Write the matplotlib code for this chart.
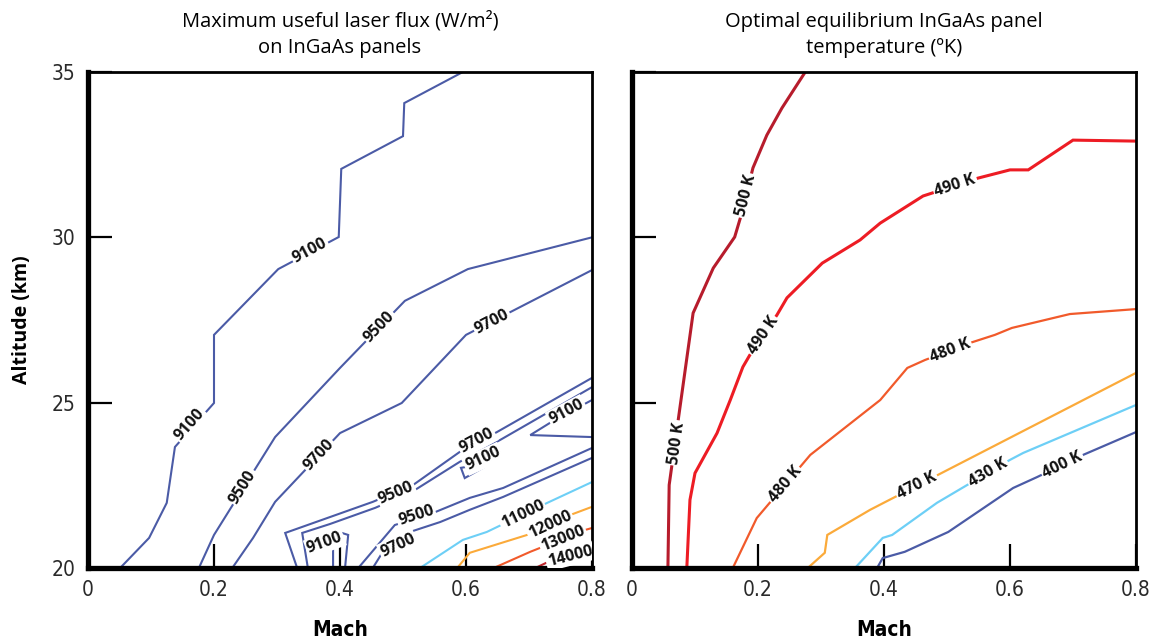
import numpy as np
import matplotlib.pyplot as plt

# ---- left panel: maximum useful laser flux (W/m2), contour polylines (Mach, altitude km)
flux_9100_a_mach = [0.051, 0.097, 0.125, 0.138, 0.2, 0.2, 0.302, 0.398, 0.402, 0.5, 0.502, 0.595]
flux_9100_a_alt = [20.0, 20.91, 21.97, 23.66, 24.99, 27.05, 29.04, 30.01, 32.07, 33.06, 34.06, 35.0]
flux_9500_a_mach = [0.176, 0.2, 0.297, 0.4, 0.503, 0.603, 0.8]
flux_9500_a_alt = [20.0, 21.0, 23.96, 26.05, 28.08, 29.04, 30.0]
flux_9700_a_mach = [0.229, 0.262, 0.297, 0.4, 0.498, 0.6, 0.8]
flux_9700_a_alt = [20.0, 20.91, 22.0, 24.08, 24.99, 27.05, 29.01]
flux_outer_mach = [0.332, 0.313, 0.452, 0.516, 0.590, 0.649, 0.8]
flux_outer_alt = [20.0, 21.06, 22.0, 22.51, 23.51, 24.11, 25.75]
flux_inner_mach = [0.349, 0.340, 0.384, 0.456, 0.514, 0.590, 0.654, 0.8]
flux_inner_alt = [20.0, 21.06, 21.33, 21.82, 22.30, 23.21, 23.87, 25.47]
flux_9100_box_mach = [0.389, 0.389, 0.403, 0.413, 0.408]
flux_9100_box_alt = [20.0, 20.64, 21.06, 21.0, 20.0]
flux_9100_wedge_mach = [0.8, 0.741, 0.702, 0.8]
flux_9100_wedge_alt = [25.08, 24.48, 24.02, 23.96]
flux_9100_loop_mach = [0.602, 0.592, 0.598, 0.627]
flux_9100_loop_alt = [23.06, 23.03, 22.72, 23.03]
flux_9500_b_mach = [0.429, 0.487, 0.551, 0.606, 0.659, 0.8]
flux_9500_b_alt = [20.0, 21.30, 21.69, 22.12, 22.42, 23.63]
flux_9700_b_mach = [0.452, 0.470, 0.511, 0.559, 0.606, 0.659, 0.8]
flux_9700_b_alt = [20.0, 20.55, 21.09, 21.39, 21.76, 22.15, 23.33]
flux_11000_mach = [0.527, 0.595, 0.633, 0.729, 0.8]
flux_11000_alt = [20.0, 20.85, 21.09, 21.97, 22.60]
flux_12000_mach = [0.586, 0.606, 0.697, 0.765, 0.8]
flux_12000_alt = [20.0, 20.46, 21.0, 21.60, 21.85]
flux_13000_mach = [0.644, 0.702, 0.789, 0.8]
flux_13000_alt = [20.0, 20.49, 21.15, 21.21]
flux_14000_mach = [0.710, 0.730, 0.8]
flux_14000_alt = [20.0, 20.18, 20.52]

# ---- right panel: optimal equilibrium panel temperature (K)
temp_500_mach = [0.057, 0.059, 0.063, 0.097, 0.129, 0.163, 0.173, 0.192, 0.214, 0.238, 0.275]
temp_500_alt = [20.0, 22.51, 23.06, 27.71, 29.07, 30.01, 30.65, 32.10, 33.09, 33.91, 35.0]
temp_490_mach = [0.087, 0.092, 0.100, 0.135, 0.156, 0.176, 0.187, 0.230, 0.246, 0.302, 0.362,
                 0.394, 0.462, 0.549, 0.600, 0.629, 0.700, 0.8]
temp_490_alt = [20.0, 22.06, 22.87, 24.08, 25.08, 26.08, 26.44, 27.65, 28.17, 29.22, 29.92,
                30.43, 31.25, 31.79, 32.04, 32.04, 32.94, 32.91]
temp_480_mach = [0.160, 0.198, 0.283, 0.394, 0.437, 0.465, 0.537, 0.576, 0.603, 0.695, 0.8]
temp_480_alt = [20.0, 21.51, 23.42, 25.08, 26.05, 26.29, 26.81, 27.05, 27.26, 27.68, 27.83]
temp_470_mach = [0.279, 0.306, 0.310, 0.378, 0.8]
temp_470_alt = [20.0, 20.46, 21.0, 21.76, 25.9]
temp_430_mach = [0.354, 0.398, 0.413, 0.484, 0.532, 0.600, 0.621, 0.8]
temp_430_alt = [20.0, 20.91, 21.0, 21.97, 22.51, 23.27, 23.48, 24.93]
temp_400_mach = [0.389, 0.398, 0.433, 0.502, 0.605, 0.643, 0.716, 0.8]
temp_400_alt = [20.0, 20.30, 20.49, 21.09, 22.42, 22.75, 23.42, 24.11]

BLUE = '#4b5ba6'
CYAN = '#6dcff6'
ORANGE = '#fbaa3a'
REDORANGE = '#f15a2b'
RED = '#ed1c24'
DARKRED = '#b71c2c'

# (mach, alt, color, lw, [(text, label_mach, label_alt, angle or None)])
left_lines = [
    (flux_9100_a_mach, flux_9100_a_alt, BLUE, 1.5, [('9100', 0.162, 24.33, None), ('9100', 0.352, 29.6, None)]),
    (flux_9500_a_mach, flux_9500_a_alt, BLUE, 1.5, [('9500', 0.246, 22.45, None), ('9500', 0.463, 27.29, None)]),
    (flux_9700_a_mach, flux_9700_a_alt, BLUE, 1.5, [('9700', 0.367, 23.41, None), ('9700', 0.641, 27.45, None)]),
    (flux_outer_mach, flux_outer_alt, BLUE, 1.5, [('9500', 0.489, 22.27, None), ('9700', 0.617, 23.85, 28)]),
    (flux_inner_mach, flux_inner_alt, BLUE, 1.5, []),
    (flux_9100_box_mach, flux_9100_box_alt, BLUE, 1.5, [('9100', 0.376, 20.76, 20)]),
    (flux_9100_wedge_mach, flux_9100_wedge_alt, BLUE, 1.5, [('9100', 0.760, 24.72, None)]),
    (flux_9100_loop_mach, flux_9100_loop_alt, BLUE, 1.5, [('9100', 0.627, 23.30, 25)]),
    (flux_9500_b_mach, flux_9500_b_alt, BLUE, 1.5, [('9500', 0.521, 21.57, None)]),
    (flux_9700_b_mach, flux_9700_b_alt, BLUE, 1.5, [('9700', 0.492, 20.68, 25)]),
    (flux_11000_mach, flux_11000_alt, CYAN, 1.5, [('11000', 0.690, 21.61, None)]),
    (flux_12000_mach, flux_12000_alt, ORANGE, 1.5, [('12000', 0.733, 21.32, None)]),
    (flux_13000_mach, flux_13000_alt, REDORANGE, 1.5, [('13000', 0.754, 20.88, None)]),
    (flux_14000_mach, flux_14000_alt, '#c1272d', 1.5, [('14000', 0.765, 20.36, None)]),
]

right_lines = [
    (temp_500_mach, temp_500_alt, DARKRED, 2.2, [('500 K', 0.071, 23.78, None), ('500 K', 0.181, 31.26, None)]),
    (temp_490_mach, temp_490_alt, RED, 2.2, [('490 K', 0.208, 27.03, None), ('490 K', 0.513, 31.57, None)]),
    (temp_480_mach, temp_480_alt, REDORANGE, 1.6, [('480 K', 0.243, 22.52, None), ('480 K', 0.505, 26.58, None)]),
    (temp_470_mach, temp_470_alt, ORANGE, 1.6, [('470 K', 0.452, 22.49, None)]),
    (temp_430_mach, temp_430_alt, CYAN, 1.6, [('430 K', 0.565, 22.88, None)]),
    (temp_400_mach, temp_400_alt, BLUE, 1.6, [('400 K', 0.683, 23.12, None)]),
]

plt.rcParams['font.family'] = ['Open Sans', 'DejaVu Sans']
TICKFONT = ['DejaVu Sans']


def seg_angle(ax, xs, ys, x0, y0):
    # angle (display space) of the line segment closest to the label point
    pts = ax.transData.transform(np.column_stack([xs, ys]))
    p = ax.transData.transform((x0, y0))
    best, ang = 1e9, 0.0
    for a, b in zip(pts[:-1], pts[1:]):
        d = b - a
        L2 = (d ** 2).sum()
        if L2 == 0:
            continue
        t = np.clip(((p - a) * d).sum() / L2, 0, 1)
        dist = np.hypot(*(a + t * d - p))
        if dist < best:
            best = dist
            ang = np.degrees(np.arctan2(d[1], d[0]))
    if ang > 90:
        ang -= 180
    if ang <= -90:
        ang += 180
    return ang


def draw_panel(ax, lines, title, ylabels=True):
    ax.set_xlim(0, 0.8)
    ax.set_ylim(20, 35)
    for xs, ys, col, lw, labels in lines:
        ax.plot(xs, ys, color=col, lw=lw, solid_joinstyle='miter', clip_on=True, zorder=2)
    for xs, ys, col, lw, labels in lines:
        for txt, lx, ly, angle in labels:
            if angle is None:
                angle = seg_angle(ax, xs, ys, lx, ly)
            ax.text(lx, ly, txt, rotation=angle, rotation_mode='anchor',
                    ha='center', va='center', fontsize=11.5, fontweight='bold', color='#111111',
                    bbox=dict(boxstyle='square,pad=0.1', fc='white', ec='none'), zorder=3,
                    clip_on=True)
    ax.set_xticks([0, 0.2, 0.4, 0.6, 0.8])
    ax.set_xticklabels(['0', '0.2', '0.4', '0.6', '0.8'])
    ax.set_yticks([20, 25, 30, 35])
    ax.tick_params(direction='in', length=17, width=1.6, color='black', labelsize=15,
                   labelcolor='#2a2a2a', pad=9)
    if not ylabels:
        ax.tick_params(axis='y', labelleft=False)
    for lab in ax.get_xticklabels() + ax.get_yticklabels():
        lab.set_family(TICKFONT)
        lab.set_stretch('condensed')
    ax.spines['left'].set_linewidth(3.8)
    ax.spines['bottom'].set_linewidth(3.8)
    ax.spines['top'].set_linewidth(2.0)
    ax.spines['right'].set_linewidth(2.0)
    ax.set_xlabel('Mach', family=TICKFONT, stretch='condensed', fontweight='bold',
                  fontsize=15, labelpad=14)
    ax.set_title(title, fontsize=14.5, pad=14, linespacing=1.4)


fig = plt.figure(figsize=(11.53, 6.41), dpi=100)
ax1 = fig.add_axes([88 / 1153, 73 / 641, 504 / 1153, 496 / 641])
ax2 = fig.add_axes([632 / 1153, 73 / 641, 504 / 1153, 496 / 641])

draw_panel(ax1, left_lines, 'Maximum useful laser flux (W/m\u00b2)\non InGaAs panels')
draw_panel(ax2, right_lines, 'Optimal equilibrium InGaAs panel\ntemperature (\u00baK)', ylabels=False)
ax1.set_ylabel('Altitude (km)', fontweight='bold', fontsize=14, labelpad=14)

fig.savefig('out.png', dpi=100)
